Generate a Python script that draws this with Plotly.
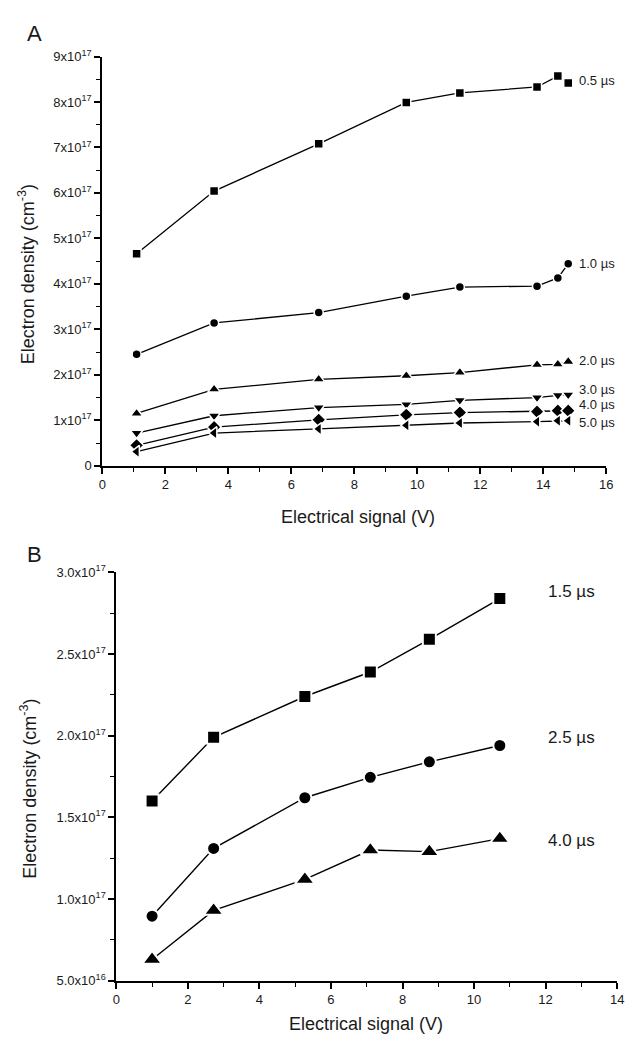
import plotly.graph_objects as go

# ---------------- Panel A data ----------------
a_x = [1.09, 3.55, 6.87, 9.65, 11.35, 13.8, 14.46, 14.79]
a_05 = [4.66e17, 6.04e17, 7.08e17, 7.99e17, 8.20e17, 8.33e17, 8.57e17, 8.42e17]
a_10 = [2.45e17, 3.14e17, 3.37e17, 3.73e17, 3.93e17, 3.95e17, 4.13e17, 4.44e17]
a_20 = [1.15e17, 1.68e17, 1.90e17, 1.98e17, 2.05e17, 2.22e17, 2.23e17, 2.29e17]
a_30 = [0.72e17, 1.10e17, 1.28e17, 1.35e17, 1.44e17, 1.50e17, 1.55e17, 1.56e17]
a_40 = [0.45e17, 0.85e17, 1.01e17, 1.12e17, 1.17e17, 1.19e17, 1.21e17, 1.21e17]
a_50 = [0.31e17, 0.72e17, 0.81e17, 0.89e17, 0.94e17, 0.97e17, 0.99e17, 0.99e17]
a_labels = ["0.5 µs", "1.0 µs", "2.0 µs", "3.0 µs", "4.0 µs", "5.0 µs"]
a_label_y = [8.47e17, 4.44e17, 2.32e17, 1.67e17, 1.35e17, 0.96e17]
a_symbols = ["square", "circle", "triangle-up", "triangle-down", "diamond", "triangle-left"]
a_sizes = [9, 9, 11, 11, 11, 11]
a_ytickvals = [0, 1e17, 2e17, 3e17, 4e17, 5e17, 6e17, 7e17, 8e17, 9e17]
a_yticktext = ["0", "1x10<sup>17</sup>", "2x10<sup>17</sup>", "3x10<sup>17</sup>",
               "4x10<sup>17</sup>", "5x10<sup>17</sup>", "6x10<sup>17</sup>",
               "7x10<sup>17</sup>", "8x10<sup>17</sup>", "9x10<sup>17</sup>"]
a_xtickvals = [0, 2, 4, 6, 8, 10, 12, 14, 16]

# ---------------- Panel B data ----------------
b_x = [1.0, 2.72, 5.27, 7.1, 8.75, 10.72]
b_15 = [1.60e17, 1.99e17, 2.24e17, 2.39e17, 2.59e17, 2.84e17]
b_25 = [0.895e17, 1.31e17, 1.62e17, 1.745e17, 1.84e17, 1.94e17]
b_40 = [0.63e17, 0.93e17, 1.12e17, 1.30e17, 1.29e17, 1.37e17]
b_labels = ["1.5 µs", "2.5 µs", "4.0 µs"]
b_label_y = [2.884e17, 1.99e17, 1.36e17]
b_symbols = ["square", "circle", "triangle-up"]
b_sizes = [13, 13, 17]
b_ytickvals = [0.5e17, 1.0e17, 1.5e17, 2.0e17, 2.5e17, 3.0e17]
b_yticktext = ["5.0x10<sup>16</sup>", "1.0x10<sup>17</sup>", "1.5x10<sup>17</sup>",
               "2.0x10<sup>17</sup>", "2.5x10<sup>17</sup>", "3.0x10<sup>17</sup>"]
b_xtickvals = [0, 2, 4, 6, 8, 10, 12, 14]

FONT = "Liberation Sans, Arial, sans-serif"
TXT = "#1a1a1a"
W, H = 633, 1047

fig = go.Figure()

for ys, sym, sz in zip([a_05, a_10, a_20, a_30, a_40, a_50], a_symbols, a_sizes):
    fig.add_trace(go.Scatter(
        x=a_x, y=ys, mode="lines+markers", xaxis="x", yaxis="y",
        line=dict(color="black", width=1.3),
        marker=dict(symbol=sym, size=sz, color="black",
                    line=dict(color="white", width=1.5)),
        showlegend=False))

for ys, sym, sz in zip([b_15, b_25, b_40], b_symbols, b_sizes):
    fig.add_trace(go.Scatter(
        x=b_x, y=ys, mode="lines+markers", xaxis="x2", yaxis="y2",
        line=dict(color="black", width=1.4),
        marker=dict(symbol=sym, size=sz, color="black",
                    line=dict(color="white", width=2)),
        showlegend=False))

ann = []
for lab, yy in zip(a_labels, a_label_y):
    ann.append(dict(x=15.07, y=yy, xref="x", yref="y", text=lab, showarrow=False,
                    xanchor="left", yanchor="middle",
                    font=dict(family=FONT, size=13, color=TXT)))
for lab, yy in zip(b_labels, b_label_y):
    ann.append(dict(x=12.0, y=yy, xref="x2", yref="y2", text=lab, showarrow=False,
                    xanchor="left", yanchor="middle",
                    font=dict(family=FONT, size=17, color=TXT)))

def px(xp):
    return xp / W

def py(yp):
    return 1 - yp / H

# panel letters
ann.append(dict(x=px(31), y=py(25), xref="paper", yref="paper", text="A", showarrow=False,
                xanchor="center", yanchor="middle", font=dict(family=FONT, size=22, color=TXT)))
ann.append(dict(x=px(31), y=py(555), xref="paper", yref="paper", text="B", showarrow=False,
                xanchor="center", yanchor="middle", font=dict(family=FONT, size=22, color=TXT)))
# axis titles
ann.append(dict(x=px(360), y=py(516), xref="paper", yref="paper", text="Electrical signal (V)",
                showarrow=False, xanchor="center", yanchor="middle",
                font=dict(family=FONT, size=18, color=TXT)))
ann.append(dict(x=px(23), y=py(270), xref="paper", yref="paper",
                text="Electron density (cm<sup>-3</sup>)", textangle=-90,
                showarrow=False, xanchor="center", yanchor="middle",
                font=dict(family=FONT, size=18, color=TXT)))
ann.append(dict(x=px(368), y=py(1032), xref="paper", yref="paper", text="Electrical signal (V)",
                showarrow=False, xanchor="center", yanchor="middle",
                font=dict(family=FONT, size=18, color=TXT)))
ann.append(dict(x=px(25), y=py(793), xref="paper", yref="paper",
                text="Electron density (cm<sup>-3</sup>)", textangle=-90,
                showarrow=False, xanchor="center", yanchor="middle",
                font=dict(family=FONT, size=18, color=TXT)))

axis_common = dict(showgrid=False, zeroline=False, showline=True, linecolor="black",
                   linewidth=2, ticks="outside", ticklen=6, tickwidth=1.5,
                   tickcolor="black", mirror=False)

fig.update_layout(
    width=W, height=H,
    margin=dict(l=0, r=0, t=0, b=0),
    paper_bgcolor="white", plot_bgcolor="white",
    showlegend=False,
    annotations=ann,
    xaxis=dict(domain=[px(100), px(613)], range=[0, 16], anchor="y",
               tickmode="array", tickvals=a_xtickvals,
               tickfont=dict(family=FONT, size=13, color=TXT),
               minor=dict(tickvals=[1, 3, 5, 7, 9, 11, 13, 15], ticks="outside",
                          ticklen=4, tickwidth=1.2, tickcolor="black"),
               **axis_common),
    yaxis=dict(domain=[py(464.3), py(48.3)], range=[0, 9e17], anchor="x",
               tickmode="array", tickvals=a_ytickvals, ticktext=a_yticktext,
               tickfont=dict(family=FONT, size=13, color=TXT),
               minor=dict(tickvals=[k * 1e17 + 0.5e17 for k in range(9)], ticks="outside",
                          ticklen=4, tickwidth=1.2, tickcolor="black"),
               **axis_common),
    xaxis2=dict(domain=[px(114.3), px(624)], range=[0, 14], anchor="y2",
                tickmode="array", tickvals=b_xtickvals,
                tickfont=dict(family=FONT, size=13, color=TXT),
                minor=dict(tickvals=[1, 3, 5, 7, 9, 11, 13], ticks="outside",
                           ticklen=4, tickwidth=1.2, tickcolor="black"),
                **axis_common),
    yaxis2=dict(domain=[py(987.7), py(572.7)], range=[0.5e17, 3.0e17], anchor="x2",
                tickmode="array", tickvals=b_ytickvals, ticktext=b_yticktext,
                tickfont=dict(family=FONT, size=13, color=TXT),
                minor=dict(tickvals=[0.75e17, 1.25e17, 1.75e17, 2.25e17, 2.75e17],
                           ticks="outside", ticklen=4, tickwidth=1.2, tickcolor="black"),
                **axis_common),
)

fig.write_html("out.html")
